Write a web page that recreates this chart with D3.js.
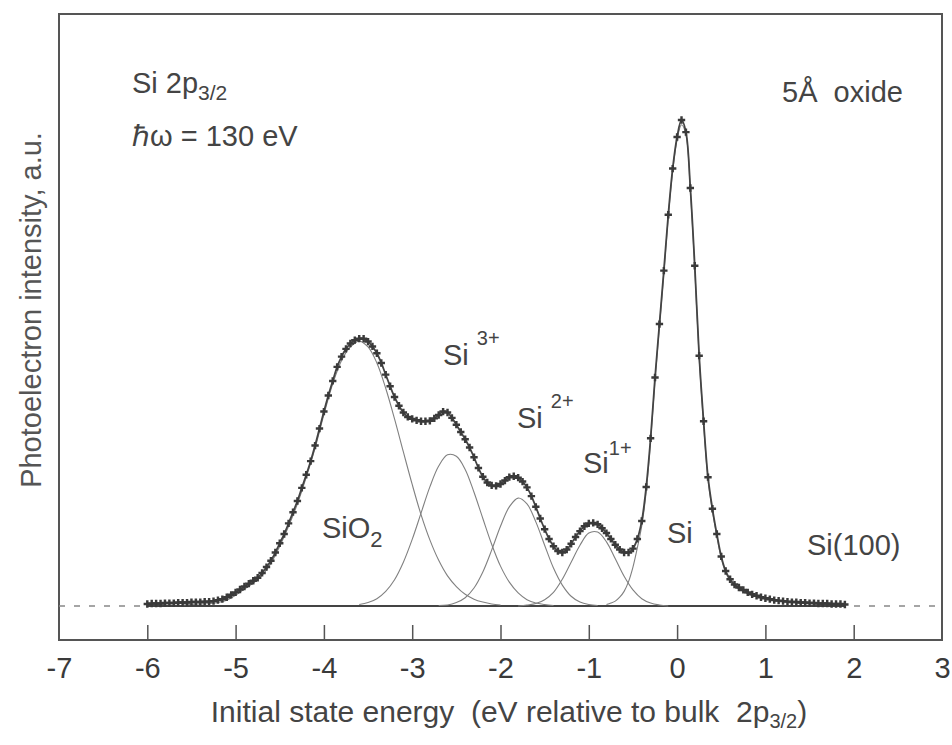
<!DOCTYPE html>
<html>
<head>
<meta charset="utf-8">
<script src="https://cdn.jsdelivr.net/npm/d3@7"></script>
<style>
  body { margin: 0; background: #fff; }
  text { font-family: "Liberation Sans", Arial, sans-serif; }
</style>
</head>
<body>
<div id="chartXps"></div>
<script>
// measured spectrum, Si 2p3/2, 0.05 eV steps
var energy = [
  -6.00, -5.95, -5.90, -5.85, -5.80, -5.75, -5.70, -5.65, -5.60, -5.55,
  -5.50, -5.45, -5.40, -5.35, -5.30, -5.25, -5.20, -5.15, -5.10, -5.05,
  -5.00, -4.95, -4.90, -4.85, -4.80, -4.75, -4.70, -4.65, -4.60, -4.55,
  -4.50, -4.45, -4.40, -4.35, -4.30, -4.25, -4.20, -4.15, -4.10, -4.05,
  -4.00, -3.95, -3.90, -3.85, -3.80, -3.75, -3.70, -3.65, -3.60, -3.55,
  -3.50, -3.45, -3.40, -3.35, -3.30, -3.25, -3.20, -3.15, -3.10, -3.05,
  -3.00, -2.95, -2.90, -2.85, -2.80, -2.75, -2.70, -2.65, -2.60, -2.55,
  -2.50, -2.45, -2.40, -2.35, -2.30, -2.25, -2.20, -2.15, -2.10, -2.05,
  -2.00, -1.95, -1.90, -1.85, -1.80, -1.75, -1.70, -1.65, -1.60, -1.55,
  -1.50, -1.45, -1.40, -1.35, -1.30, -1.25, -1.20, -1.15, -1.10, -1.05,
  -1.00, -0.95, -0.90, -0.85, -0.80, -0.75, -0.70, -0.65, -0.60, -0.55,
  -0.50, -0.45, -0.40, -0.35, -0.30, -0.25, -0.20, -0.15, -0.10, -0.05,
  0.00, 0.05, 0.10, 0.15, 0.20, 0.25, 0.30, 0.35, 0.40, 0.45,
  0.50, 0.55, 0.60, 0.65, 0.70, 0.75, 0.80, 0.85, 0.90, 0.95,
  1.00, 1.05, 1.10, 1.15, 1.20, 1.25, 1.30, 1.35, 1.40, 1.45,
  1.50, 1.55, 1.60, 1.65, 1.70, 1.75, 1.80, 1.85, 1.90
];
var intensity = [
  0.4, 0.5, 0.5, 0.5, 0.6, 0.6, 0.6, 0.7, 0.7, 0.7,
  0.8, 0.8, 0.8, 0.9, 0.9, 1.0, 1.2, 1.4, 1.8, 2.3,
  2.8, 3.4, 4.0, 4.6, 5.2, 5.8, 6.8, 8.0, 9.3, 11.0,
  12.9, 14.8, 17.0, 19.3, 21.6, 24.3, 27.0, 29.8, 33.0, 36.5,
  40.0, 43.3, 46.3, 49.2, 51.3, 52.9, 54.0, 54.7, 55.0, 55.0,
  54.4, 53.4, 52.0, 50.0, 47.6, 45.2, 43.0, 41.2, 39.8, 38.9,
  38.5, 38.2, 38.0, 38.0, 38.1, 38.6, 39.3, 40.0, 39.8, 38.7,
  37.3, 35.8, 34.3, 32.6, 30.6, 28.4, 26.6, 25.4, 24.8, 24.7,
  25.1, 25.8, 26.5, 26.7, 26.4, 25.6, 24.4, 22.6, 20.4, 18.0,
  15.8, 13.8, 12.3, 11.3, 11.0, 11.6, 12.8, 14.2, 15.4, 16.4,
  17.0, 17.1, 16.8, 16.0, 15.0, 13.8, 12.6, 11.6, 11.0, 11.0,
  11.8, 13.8, 17.5, 24.5, 34.5, 47.0, 58.0, 69.0, 80.5, 90.0,
  96.5, 100.0, 97.5, 86.0, 70.0, 51.5, 38.0, 26.5, 20.0, 14.8,
  10.2, 7.2, 5.5, 4.4, 3.8, 3.3, 2.8, 2.4, 2.1, 1.8,
  1.6, 1.4, 1.2, 1.1, 1.0, 0.9, 0.8, 0.8, 0.7, 0.7,
  0.6, 0.6, 0.5, 0.5, 0.5, 0.4, 0.4, 0.4, 0.3
];

// fitted components
var sio2Energy = [-5.6, -5.5, -5.4, -5.3, -5.2, -5.1, -5.0, -4.9, -4.8, -4.7, -4.6, -4.5, -4.4,
  -4.3, -4.2, -4.1, -4.0, -3.9, -3.8, -3.7, -3.6, -3.5, -3.4, -3.3, -3.2, -3.1, -3.0,
  -2.9, -2.8, -2.7, -2.6, -2.5, -2.4, -2.3, -2.2, -2.1, -2.0];
var sio2Intensity = [0.2, 0.3, 0.4, 0.5, 0.7, 1.2, 2.2, 3.5, 4.7, 6.3, 8.8, 12.3, 16.4,
  21.0, 26.5, 32.5, 39.4, 45.7, 50.5, 53.3, 54.5, 53.3, 50.0, 44.8, 38.5, 31.7, 25.0,
  18.8, 13.6, 9.4, 6.2, 4.0, 2.4, 1.4, 0.8, 0.4, 0.2];

var si3Energy = [-3.6, -3.5, -3.4, -3.3, -3.2, -3.1, -3.0, -2.9, -2.8, -2.7, -2.6, -2.5,
  -2.4, -2.3, -2.2, -2.1, -2.0, -1.9, -1.8, -1.7, -1.6, -1.5, -1.4];
var si3Intensity = [0.3, 0.7, 1.5, 3.0, 5.4, 9.0, 13.7, 19.1, 24.5, 28.8, 31.1, 30.8,
  28.1, 23.4, 18.0, 12.7, 8.2, 4.9, 2.7, 1.3, 0.6, 0.3, 0.1];

var si2Energy = [-2.7, -2.6, -2.5, -2.4, -2.3, -2.2, -2.1, -2.0, -1.9, -1.8, -1.7, -1.6,
  -1.5, -1.4, -1.3, -1.2, -1.1, -1.0, -0.9];
var si2Intensity = [0.1, 0.2, 0.7, 1.7, 3.7, 7.0, 11.5, 16.4, 20.4, 22.2, 21.0, 17.3,
  12.5, 7.8, 4.3, 2.0, 0.8, 0.3, 0.1];

var si1Energy = [-1.8, -1.7, -1.6, -1.5, -1.4, -1.3, -1.2, -1.1, -1.0, -0.9, -0.8, -0.7,
  -0.6, -0.5, -0.4, -0.3, -0.2, -0.1];
var si1Intensity = [0.0, 0.2, 0.5, 1.3, 2.8, 5.5, 9.0, 12.5, 15.0, 15.2, 13.2, 9.7,
  6.1, 3.3, 1.5, 0.6, 0.2, 0.0];

var siEnergy = [-0.8, -0.75, -0.7, -0.65, -0.6, -0.55, -0.5, -0.45, -0.4, -0.35, -0.3,
  -0.25, -0.2, -0.15, -0.1, -0.05, 0, 0.05, 0.1, 0.15, 0.2, 0.25, 0.3, 0.35, 0.4, 0.45,
  0.5, 0.55, 0.6, 0.65, 0.7, 0.8, 0.9, 1.0, 1.2, 1.4, 1.6, 1.9];
var siIntensity = [0.3, 0.6, 1.0, 1.8, 3.0, 5.0, 8.0, 12.0, 16.5, 23.5, 34.0,
  46.5, 57.5, 68.5, 80.0, 89.5, 96.0, 99.0, 97.0, 85.5, 69.5, 51.0, 37.5, 26.0, 19.5, 14.3,
  9.8, 6.9, 5.2, 4.1, 3.5, 2.5, 1.9, 1.5, 1.0, 0.7, 0.5, 0.3];

// background under the spectrum and its dashed extension
var bgEnergy = [-6.0, 1.9];
var bgIntensity = [0, 0];
var baseEnergy = [-7, 3];
var baseIntensity = [0, 0];

var xTicks = [-7, -6, -5, -4, -3, -2, -1, 0, 1, 2, 3];

var width = 952;
var height = 745;
var svg = d3.select('#chartXps').append('svg').attr("width", width).attr("height", height);

var x_scale = d3.scaleLinear().domain([-7, 3]).range([59, 942]);
var y_scale = d3.scaleLinear().domain([-7, 121.8]).range([640, 14]);

function pairs(xs, ys) {
    return xs.map(function (e, i) { return [e, ys[i]]; });
}

var line = d3.line()
    .x(function (d) { return x_scale(d[0]); })
    .y(function (d) { return y_scale(d[1]); });
var smooth = d3.line()
    .curve(d3.curveCatmullRom)
    .x(function (d) { return x_scale(d[0]); })
    .y(function (d) { return y_scale(d[1]); });

// frame
svg.append("rect")
    .attr("x", x_scale(-7))
    .attr("y", y_scale(121.8))
    .attr("width", x_scale(3) - x_scale(-7))
    .attr("height", y_scale(-7) - y_scale(121.8))
    .attr("fill", "none")
    .attr("stroke", "#555")
    .attr("stroke-width", 2);

// baseline
svg.append("path")
    .attr("d", line(pairs(baseEnergy, baseIntensity)))
    .attr("fill", "none")
    .attr("stroke", "#888")
    .attr("stroke-width", 1.5)
    .attr("stroke-dasharray", "6,9");
svg.append("path")
    .attr("d", line(pairs(bgEnergy, bgIntensity)))
    .attr("fill", "none")
    .attr("stroke", "#444")
    .attr("stroke-width", 2);

// components
var components = [
    pairs(sio2Energy, sio2Intensity),
    pairs(si3Energy, si3Intensity),
    pairs(si2Energy, si2Intensity),
    pairs(si1Energy, si1Intensity),
    pairs(siEnergy, siIntensity)
];
svg.selectAll(".component")
    .data(components)
    .enter()
    .append("path")
    .attr("class", "component")
    .attr("d", smooth)
    .attr("fill", "none")
    .attr("stroke", "#808080")
    .attr("stroke-width", 1.1);

// data
var spectrum = pairs(energy, intensity);
svg.append("path")
    .attr("d", smooth(spectrum))
    .attr("fill", "none")
    .attr("stroke", "#444")
    .attr("stroke-width", 1.8);
svg.selectAll(".pt")
    .data(spectrum)
    .enter()
    .append("path")
    .attr("class", "pt")
    .attr("d", d3.symbol().type(d3.symbolCross).size(30))
    .attr("transform", function (d) { return "translate(" + x_scale(d[0]) + "," + y_scale(d[1]) + ")"; })
    .attr("fill", "#3a3a3a");

// x axis, ticks inside the frame
var x_axis = d3.axisBottom(x_scale)
    .tickValues(xTicks)
    .tickSizeInner(-15)
    .tickSizeOuter(0)
    .tickPadding(17)
    .tickFormat(function (d) { return String(d); });
var gx = svg.append("g")
    .attr("transform", "translate(0," + y_scale(-7) + ")")
    .call(x_axis);
gx.select(".domain").remove();
gx.selectAll("line")
    .attr("stroke", "#555")
    .attr("stroke-width", 1.5)
    .attr("opacity", function (d) { return (d == -7 || d == 3) ? 0 : 1; });
gx.selectAll("text")
    .style("font-family", "'Liberation Sans', Arial, sans-serif")
    .style("font-size", "29px")
    .attr("fill", "#3a3a3a");

// axis titles
var xt = svg.append("text")
    .attr("x", 509)
    .attr("y", 722)
    .attr("text-anchor", "middle")
    .style("font-size", "30px")
    .attr("fill", "#444")
    .attr("xml:space", "preserve");
xt.append("tspan").text("Initial state energy  (eV relative to bulk  2p");
xt.append("tspan").attr("dy", 6).style("font-size", "20px").text("3/2");
xt.append("tspan").attr("dy", -6).text(")");

svg.append("text")
    .attr("transform", "translate(41,310) rotate(-90)")
    .attr("text-anchor", "middle")
    .style("font-size", "29px")
    .attr("fill", "#555")
    .text("Photoelectron intensity, a.u.");

// annotations
function label(x, y, main, extra, shift, size) {
    var t = svg.append("text")
        .attr("x", x)
        .attr("y", y)
        .style("font-size", "29px")
        .attr("fill", "#444")
        .attr("xml:space", "preserve");
    t.append("tspan").text(main);
    if (extra) {
        t.append("tspan").attr("dy", shift).style("font-size", size).text(extra);
    }
    return t;
}
label(132, 93, "Si 2p", "3/2", 7, "21px");
label(132, 146, "\u210F\u03C9 = 130 eV");
label(782, 102, "5\u00C5  oxide");
label(443, 365, "Si ", "3+", -20, "20px");
label(517, 428, "Si ", "2+", -20, "20px");
label(583, 473, "Si", "1+", -18, "20px");
label(322, 538, "SiO", "2", 9, "22px");
label(667, 543, "Si");
label(807, 555, "Si(100)");
</script>
</body>
</html>
